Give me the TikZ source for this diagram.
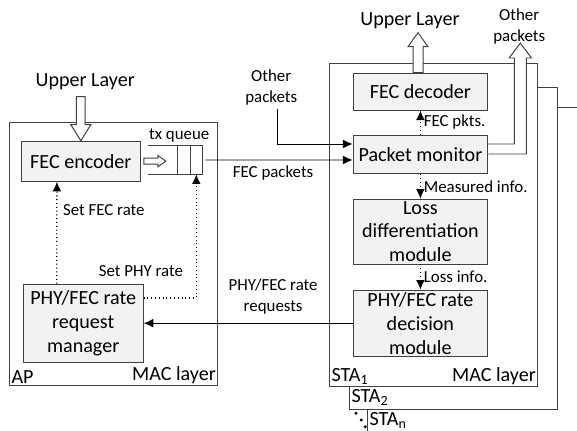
\documentclass[tikz,border=0pt]{standalone}
\usepackage{fontspec}
\setmainfont{Carlito}
\usetikzlibrary{arrows.meta,calc,positioning}
\definecolor{lnline}{RGB}{64,64,64}
\definecolor{lnfill}{RGB}{242,242,242}

\begin{document}
\begin{tikzpicture}[
      box/.style={rectangle, draw=lnline, fill=lnfill, line width=0.7pt, align=center, inner sep=1pt, font=\fontsize{14.3}{17}\selectfont},
      layer/.style={rectangle, draw=lnline, fill=white, line width=0.7pt, inner sep=0pt},
      lbl/.style={font=\fontsize{12}{15}\selectfont, align=center, inner sep=1pt},
      big/.style={font=\fontsize{14.3}{17}\selectfont, inner sep=1pt},
      corner/.style={font=\fontsize{14.3}{17}\selectfont, inner sep=1.5pt},
      hollow/.style={draw=lnline, fill=white, line width=0.7pt, line join=miter},
      arr/.style={-{Latex[length=2.4mm, width=2.2mm]}, line width=0.7pt, color=black},
      dotarr/.style={arr, dotted, line width=0.9pt}
    ]
      \useasboundingbox (0,0) rectangle (14.425,-10.775);

      % Stations behind STA1
      \node[layer, minimum width=6cm, minimum height=9cm, anchor=north west] (stan) at (9.18,-2.68) {};
      \node[layer, minimum width=5.2cm, minimum height=8.05cm, anchor=north west] (sta2) at (8.73,-2.18) {};
      \node[layer, minimum width=5.2cm, minimum height=8.07cm, anchor=north west] (sta1) at (8.23,-1.58) {};

      % AP side
      \node[layer, minimum width=5.2cm, minimum height=6.58cm, anchor=north west] (ap) at (0.23,-3.05) {};
      \node[box, minimum width=2.97cm, minimum height=1.0cm] (enc) at (2.02,-4.03) {FEC encoder};
      \node[box, minimum width=3.0cm, minimum height=1.95cm] (mgr) at (2.08,-8.08) {PHY/FEC rate\\request\\manager};
      \node[minimum width=1.35cm, minimum height=0.7cm, inner sep=0pt] (queue) at (4.375,-4.0) {};
      \node[lbl] (txq) at (4.48,-3.4) {tx queue};
      \node[big] (upap) at (2.13,-2.03) {Upper Layer};

      % STA side
      \node[box, minimum width=3.37cm, minimum height=0.92cm] (dec) at (10.51,-2.29) {FEC decoder};
      \node[box, minimum width=3.37cm, minimum height=0.97cm] (mon) at (10.51,-3.86) {Packet monitor};
      \node[box, minimum width=3.37cm, minimum height=1.62cm] (loss) at (10.51,-5.79) {Loss\\differentiation\\module};
      \node[box, minimum width=3.37cm, minimum height=1.65cm] (dcs) at (10.51,-8.08) {PHY/FEC rate\\decision\\module};
      \node[big] (upsta) at (10.25,-0.52) {Upper Layer};
      \node[lbl] (othin) at (6.78,-2.18) {Other\\packets};
      \node[lbl] (othout) at (12.98,-0.66) {Other\\packets};

      % Corner labels
      \node[corner, anchor=south west] at (ap.south west) {AP};
      \node[corner, anchor=south east] at (ap.south east) {MAC layer};
      \node[corner, anchor=south west] at (sta1.south west) {STA\textsubscript{1}};
      \node[corner, anchor=south east] at (sta1.south east) {MAC layer};
      \node[corner, anchor=north west] at (sta1.south -| sta2.west) {STA\textsubscript{2}};
      \node[corner, anchor=north west] at (sta2.south -| stan.west) {STA\textsubscript{n}};
      \fill[black] (8.9,-10.33) circle (0.04) (9.03,-10.5) circle (0.04) (9.13,-10.67) circle (0.04);

      % tx queue
      \draw[line width=0.7pt, color=lnline] (queue.north west) -- (queue.north east) -- (queue.south east) -- (queue.south west);
      \draw[line width=0.7pt, color=lnline] ($(queue.north east)+(-0.62,0)$) -- ($(queue.south east)+(-0.62,0)$);
      \draw[line width=0.7pt, color=lnline] ($(queue.north east)+(-0.3,0)$) -- ($(queue.south east)+(-0.3,0)$);

      % Hollow arrows
      \draw[hollow, shift={(enc.north)}] (0,0) -- (-0.25,0.4) -- (-0.11,0.4) -- (-0.11,1.1) -- (0.11,1.1) -- (0.11,0.4) -- (0.25,0.4) -- cycle;
      \draw[hollow, shift={(enc.east)}] (0.08,0.075) -- (0.43,0.075) -- (0.43,0.14) -- (0.63,0) -- (0.43,-0.14) -- (0.43,-0.075) -- (0.08,-0.075) -- cycle;
      \draw[hollow, shift={(dec.north)}] (-0.18,0) -- (-0.18,0.65) -- (-0.31,0.65) -- (-0.06,1.0) -- (0.19,0.65) -- (0.07,0.65) -- (0.07,0) -- cycle;
      \draw[hollow, shift={(mon.east)}] (0,0.26) -- (0.65,0.26) -- (0.65,2.41) -- (0.52,2.41) -- (0.8,2.78) -- (1.08,2.41) -- (0.95,2.41) -- (0.95,0.01) -- (0,0.01);

      % Paths
      \draw[arr] (othin.south -| 6.93,0) ++(0,-0.05) |- ($(mon.west)+(0,0.26)$);
      \draw[arr] ($(queue.east)+(0.08,0)$) -- ($(mon.west)+(0,-0.14)$) node[lbl, pos=0.46, below=3pt]{FEC packets};
      \draw[dotarr] (mon.north) -- (dec.south) node[lbl, midway, right=1pt]{FEC pkts.};
      \draw[dotarr] (mon.south) -- (loss.north) node[lbl, midway, right=1pt]{Measured info.};
      \draw[dotarr] (loss.south) -- (dcs.north) node[lbl, midway, right=1pt]{Loss info.};
      \draw[arr] (dcs.west) -- (mgr.east) node[lbl, pos=0.38, above=5pt]{PHY/FEC rate\\requests};
      \draw[dotarr] ($(mgr.north west)+(0.85,0)$) -- ($(enc.south west)+(0.9,0)$) node[lbl, pos=0.72, right=3pt]{Set FEC rate};
      \draw[dotarr] ($(mgr.east)+(0,0.63)$) -| ($(queue.south east)+(-0.15,0)$) node[lbl, pos=0.5, anchor=south east, xshift=-8pt, yshift=14pt]{Set PHY rate};
    \end{tikzpicture}
\end{document}
